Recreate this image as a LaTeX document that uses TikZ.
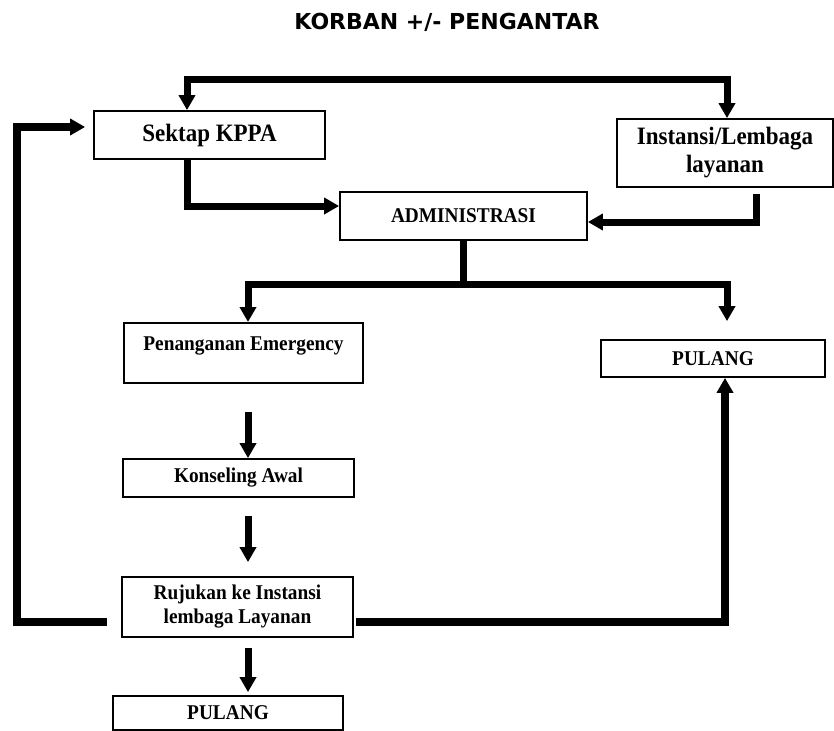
\documentclass[tikz,border=0pt]{standalone}
\usepackage{fontspec}
\setmainfont{Liberation Serif}[FakeStretch=0.92]
\newfontfamily\titlefont{DejaVu Sans}
\usetikzlibrary{arrows.meta,calc}
\tikzset{
  box/.style={draw, line width=1.8pt, fill=white, align=center, inner sep=0pt,
    font=\bfseries\fontsize{21}{24}\selectfont},
  bigbox/.style={box, font=\bfseries\fontsize{25}{28}\selectfont},
  conn/.style={draw, line width=7pt, line join=miter, line cap=butt},
  loopconn/.style={conn, line width=8.5pt},
  Tri/.tip={Triangle[width=16pt,length=15pt]}
}
\begin{document}
\begin{tikzpicture}[x=1pt,y=-1pt]
\useasboundingbox (0,0) rectangle (834,730);
\fill[white] (0,0) rectangle (834,730);

% title
\node (title) at (447,22) {\titlefont\bfseries\fontsize{22}{26}\selectfont KORBAN +/- PENGANTAR};

% boxes
\node[bigbox, minimum width=231pt, minimum height=48pt] (sek) at (209.5,135) {Sektap KPPA};
\node[bigbox, minimum width=216pt, minimum height=68pt] (ins) at (725,153) {Instansi/Lembaga\\layanan};
\node[box, minimum width=247pt, minimum height=48pt] (adm) at (463.5,216) {ADMINISTRASI};
\node[box, minimum width=239pt, text height=14pt, text depth=18pt, inner ysep=14pt, anchor=north] (pen) at (243.5,322) {Penanganan Emergency};
\node[box, minimum width=224pt, minimum height=37pt] (rp) at (713,358.5) {PULANG};
\node[box, minimum width=231pt, minimum height=38pt] (kon) at (238.5,478) {Konseling Awal};
\node[box, minimum width=231pt, minimum height=60pt] (ruj) at (237.5,607) {Rujukan ke Instansi\\lembaga Layanan};
\node[box, minimum width=230pt, minimum height=34pt] (bp) at (228,713) {PULANG};

% helper coordinates
\coordinate (tl) at (187,80);
\coordinate (tr) at (727,80);
\coordinate (bl) at (248,284);
\coordinate (brr) at (727,284);
\coordinate (lx) at (17,0);
\coordinate (rx) at (725,0);

% top connector: both boxes
\draw[conn, Tri-Tri] (tl |- sek.north) -- (tl) -- (tr) -- (tr |- ins.north);
% Sektap -> Administrasi
\draw[conn, -Tri] (tl |- sek.south) |- ($(adm.west)+(0,-10)$);
% Instansi -> Administrasi
\draw[conn, -Tri] ($(ins.south)+(31,6)$) |- ($(adm.east)+(0,6)$);
% Administrasi branch
\draw[conn] (adm.south) -- (adm.south |- bl);
\draw[conn, Tri-Tri] (bl |- pen.north) -- (bl) -- (brr) -- ($(brr |- rp.north)+(0,-18)$);
% vertical chain
\draw[conn, -Tri] ($(bl |- pen.south)+(0,28)$) -- (bl |- kon.north);
\draw[conn, -Tri] ($(kon.south -| bl)+(0,18)$) -- ($(ruj.north -| bl)+(0,-14)$);
\draw[conn, -Tri] ($(ruj.south -| bl)+(0,10)$) -- ($(bp.north -| bl)+(0,-3)$);
% loops from Rujukan
\draw[loopconn, -Tri] ($(ruj.west)+(-14,15)$) -| ($(lx |- sek.west)+(0,-8)$) -- ($(sek.west)+(-8,-8)$);
\draw[loopconn, -Tri] ($(ruj.east)+(2,15)$) -| (rx |- rp.south);
\end{tikzpicture}
\end{document}
